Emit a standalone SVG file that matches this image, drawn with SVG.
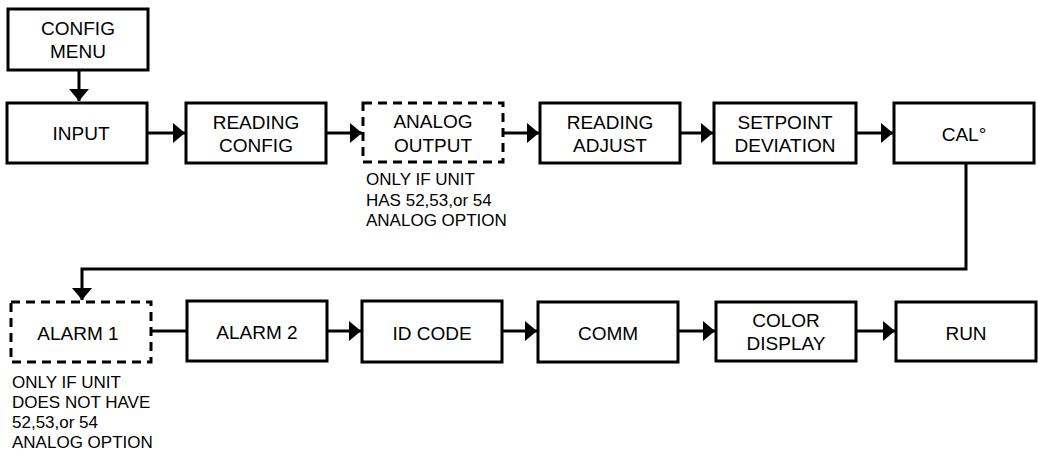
<svg xmlns="http://www.w3.org/2000/svg" width="1038" height="454" viewBox="0 0 1038 454">
<style>
.box{fill:#fff;stroke:#000;stroke-width:3}
.dash{stroke-dasharray:9 6}
.t{font-family:"Liberation Sans",Arial,sans-serif;font-size:19px;fill:#000;text-anchor:middle}
.n{font-family:"Liberation Sans",Arial,sans-serif;font-size:17px;fill:#000}
.c{fill:none;stroke:#000;stroke-width:3}
</style>
<defs>
<marker id="ah" markerUnits="userSpaceOnUse" markerWidth="12" markerHeight="20" refX="12" refY="10" orient="auto">
<path d="M0,0 L12,10 L0,20 z" fill="#000"/>
</marker>
</defs>
<g id="connectors">
<path class="c" d="M79,70 V101" marker-end="url(#ah)"/>
<path class="c" d="M148,133 H185" marker-end="url(#ah)"/>
<path class="c" d="M327,133 H362" marker-end="url(#ah)"/>
<path class="c" d="M504,133 H539" marker-end="url(#ah)"/>
<path class="c" d="M681,133 H713" marker-end="url(#ah)"/>
<path class="c" d="M857,133 H893" marker-end="url(#ah)"/>
<path class="c" d="M966,164 V269 H82 V300" marker-end="url(#ah)"/>
<path class="c" d="M152,331 H186"/>
<path class="c" d="M328,331 H361" marker-end="url(#ah)"/>
<path class="c" d="M503,331 H537" marker-end="url(#ah)"/>
<path class="c" d="M679,331 H715" marker-end="url(#ah)"/>
<path class="c" d="M857,331 H895" marker-end="url(#ah)"/>
</g>
<g id="config-menu"><rect class="box" x="8" y="9" width="140" height="61"/><text class="t" x="78" y="35">CONFIG</text><text class="t" x="78" y="58">MENU</text></g>
<g id="input"><rect class="box" x="7" y="103" width="140" height="60"/><text class="t" x="81" y="140">INPUT</text></g>
<g id="reading-config"><rect class="box" x="186" y="103" width="140" height="60"/><text class="t" x="256" y="129">READING</text><text class="t" x="256" y="152">CONFIG</text></g>
<g id="analog-output"><rect class="box dash" x="363" y="103" width="140" height="59"/><text class="t" x="433" y="128">ANALOG</text><text class="t" x="433" y="152">OUTPUT</text>
<text class="n" x="366" y="185">ONLY IF UNIT</text><text class="n" x="366" y="206">HAS 52,53,or 54</text><text class="n" x="366" y="226">ANALOG OPTION</text></g>
<g id="reading-adjust"><rect class="box" x="540" y="103" width="140" height="60"/><text class="t" x="610" y="129">READING</text><text class="t" x="610" y="152">ADJUST</text></g>
<g id="setpoint-deviation"><rect class="box" x="714" y="103" width="142" height="60"/><text class="t" x="785" y="129">SETPOINT</text><text class="t" x="785" y="152">DEVIATION</text></g>
<g id="cal"><rect class="box" x="894" y="103" width="140" height="60"/><text class="t" x="964" y="141">CAL°</text></g>
<g id="alarm-1"><rect class="box dash" x="11" y="302" width="140" height="60"/><text class="t" x="78" y="340">ALARM 1</text>
<text class="n" x="12" y="388">ONLY IF UNIT</text><text class="n" x="12" y="408">DOES NOT HAVE</text><text class="n" x="12" y="428">52,53,or 54</text><text class="n" x="12" y="448">ANALOG OPTION</text></g>
<g id="alarm-2"><rect class="box" x="187" y="301" width="140" height="60"/><text class="t" x="257" y="339">ALARM 2</text></g>
<g id="id-code"><rect class="box" x="362" y="301" width="140" height="61"/><text class="t" x="432" y="340">ID CODE</text></g>
<g id="comm"><rect class="box" x="538" y="302" width="140" height="60"/><text class="t" x="608" y="340">COMM</text></g>
<g id="color-display"><rect class="box" x="716" y="302" width="140" height="59"/><text class="t" x="786" y="327">COLOR</text><text class="t" x="786" y="350">DISPLAY</text></g>
<g id="run"><rect class="box" x="896" y="302" width="140" height="59"/><text class="t" x="966" y="340">RUN</text></g>
</svg>
